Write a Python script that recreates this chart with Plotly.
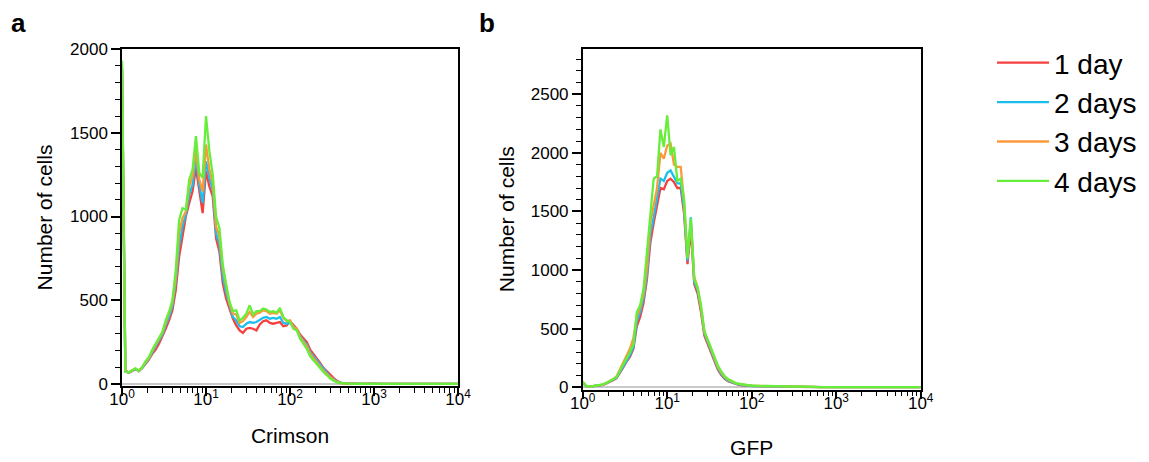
import numpy as np
import plotly.graph_objects as go

# ---------------- data ----------------
# bin positions (log10 of fluorescence), 0.04-decade bins from 10^0 to 10^4
log_bins = np.round(np.linspace(0, 4, 101), 2)
x_bins = 10 ** log_bins

series_names = ["1 day", "2 days", "3 days", "4 days"]
series_colors = ["#F5403F", "#1CBEEE", "#FB9A3A", "#66EE3A"]

x_tickvals = [1, 10, 100, 1000, 10000]
x_ticktext = ["10<sup>0</sup>", "10<sup>1</sup>", "10<sup>2</sup>", "10<sup>3</sup>", "10<sup>4</sup>"]
x_minor_tickvals = [2, 3, 4, 5, 6, 7, 8, 9,
                    20, 30, 40, 50, 60, 70, 80, 90,
                    200, 300, 400, 500, 600, 700, 800, 900,
                    2000, 3000, 4000, 5000, 6000, 7000, 8000, 9000]

# Panel a: Crimson
crimson_day1 = [1880, 80, 68, 80, 88, 78, 95, 120, 145, 180, 205,
                240, 280, 330, 380, 440, 560, 760, 880, 1000, 1080,
                1150, 1290, 1150, 1020, 1270, 1180, 1120, 870, 790, 600,
                510, 450, 390, 350, 320, 305, 330, 335, 330, 320,
                355, 375, 380, 365, 360, 365, 370, 345, 350, 375,
                350, 330, 295, 270, 250, 205, 180, 150, 125, 95,
                75, 50, 35, 18, 8, 4, 3, 2, 2, 1,
                1, 1, 2, 1, 1, 1, 1, 1, 1, 1,
                1, 1, 1, 1, 1, 1, 1, 1, 1, 1,
                1, 1, 1, 1, 1, 1, 1, 1, 1, 1]
crimson_day2 = [1890, 76, 66, 78, 90, 76, 96, 125, 150, 188, 222,
                255, 295, 350, 400, 465, 610, 820, 940, 1010, 1130,
                1190, 1350, 1190, 1080, 1330, 1230, 1160, 900, 830, 640,
                545, 470, 400, 380, 345, 340, 360, 370, 365, 370,
                385, 395, 400, 390, 395, 390, 400, 365, 360, 365,
                345, 325, 285, 260, 235, 190, 165, 135, 110, 85,
                65, 42, 28, 14, 6, 3, 2, 2, 1, 1,
                1, 1, 1, 2, 1, 1, 1, 1, 1, 1,
                1, 1, 1, 1, 1, 1, 1, 1, 1, 1,
                1, 1, 1, 1, 1, 1, 1, 1, 1, 1]
crimson_day3 = [1900, 78, 68, 82, 92, 78, 98, 130, 155, 198, 232,
                265, 305, 365, 420, 485, 640, 900, 990, 1030, 1180,
                1240, 1400, 1220, 1150, 1430, 1280, 1200, 940, 880, 690,
                580, 480, 420, 415, 365, 375, 400, 430, 400, 420,
                425, 440, 435, 420, 425, 420, 440, 395, 375, 380,
                340, 330, 280, 255, 225, 180, 155, 125, 100, 78,
                58, 38, 24, 12, 5, 3, 2, 2, 1, 1,
                1, 2, 1, 1, 1, 1, 1, 1, 1, 1,
                1, 1, 1, 1, 1, 1, 1, 1, 1, 1,
                1, 1, 1, 1, 1, 1, 1, 1, 1, 1]
crimson_day4 = [1930, 74, 70, 84, 94, 80, 100, 135, 160, 205, 240,
                275, 310, 380, 430, 500, 680, 980, 1050, 1040, 1220,
                1280, 1480, 1260, 1230, 1600, 1390, 1250, 1000, 930, 710,
                595, 490, 435, 440, 380, 395, 420, 470, 415, 435,
                435, 450, 445, 430, 435, 425, 455, 400, 380, 370,
                330, 320, 270, 240, 210, 165, 140, 115, 95, 70,
                52, 32, 20, 10, 5, 3, 2, 2, 1, 2,
                1, 1, 2, 1, 1, 1, 2, 1, 1, 1,
                1, 2, 1, 1, 1, 1, 1, 2, 1, 1,
                1, 1, 1, 1, 2, 1, 1, 1, 1, 1]

# Panel b: GFP
gfp_day1 = [40, 10, 5, 10, 12, 15, 20, 32, 45, 60, 78,
            120, 170, 220, 260, 330, 520, 600, 720, 920, 1230,
            1400, 1550, 1700, 1690, 1760, 1780, 1750, 1700, 1700, 1480,
            1050, 1350, 880, 800, 640, 440, 370, 300, 220, 150,
            105, 72, 52, 40, 30, 22, 17, 14, 12, 10,
            9, 10, 8, 9, 7, 7, 8, 6, 5, 5,
            5, 4, 4, 3, 3, 3, 2, 2, 2, 2,
            1, 2, 1, 1, 1, 1, 1, 1, 1, 1,
            1, 1, 1, 1, 1, 1, 1, 1, 1, 1,
            1, 1, 1, 1, 1, 1, 1, 1, 1, 1]
gfp_day2 = [44, 10, 5, 11, 13, 16, 22, 35, 48, 64, 82,
            128, 178, 232, 275, 345, 560, 640, 760, 960, 1300,
            1450, 1600, 1780, 1760, 1830, 1850, 1800, 1740, 1740, 1520,
            1080, 1450, 900, 830, 670, 460, 385, 310, 230, 160,
            112, 78, 56, 43, 33, 25, 19, 15, 13, 11,
            10, 11, 9, 10, 8, 8, 9, 7, 6, 6,
            6, 5, 4, 4, 3, 3, 3, 2, 2, 2,
            2, 1, 1, 2, 1, 1, 1, 1, 1, 1,
            1, 1, 1, 1, 1, 1, 1, 1, 1, 1,
            1, 1, 1, 1, 1, 1, 1, 1, 1, 1]
gfp_day3 = [46, 11, 6, 11, 13, 17, 23, 37, 52, 70, 92,
            150, 210, 270, 330, 420, 600, 680, 800, 1020, 1400,
            1550, 1700, 2000, 1950, 2060, 2080, 1900, 1880, 1880, 1580,
            1120, 1400, 940, 850, 680, 470, 400, 325, 245, 172,
            125, 88, 64, 48, 37, 28, 22, 18, 16, 14,
            12, 13, 10, 11, 10, 9, 11, 9, 8, 8,
            9, 7, 7, 6, 6, 5, 4, 3, 3, 2,
            2, 2, 1, 1, 2, 1, 1, 1, 1, 1,
            1, 1, 1, 1, 1, 1, 1, 1, 1, 1,
            1, 1, 1, 1, 1, 1, 1, 1, 1, 1]
gfp_day4 = [48, 11, 6, 12, 14, 18, 24, 38, 52, 68, 88,
            140, 190, 250, 300, 370, 640, 700, 840, 1150, 1500,
            1780, 1800, 2200, 2050, 2320, 1980, 2050, 1760, 1780, 1600,
            1100, 1440, 920, 850, 700, 480, 410, 340, 260, 185,
            135, 95, 70, 52, 40, 30, 24, 20, 18, 15,
            12, 14, 10, 12, 11, 9, 12, 10, 8, 9,
            10, 7, 8, 6, 7, 5, 4, 3, 3, 2,
            2, 3, 2, 2, 1, 2, 2, 1, 2, 1,
            1, 2, 1, 1, 2, 1, 1, 1, 2, 1,
            1, 1, 1, 2, 1, 1, 1, 1, 1, 1]

crimson_series = [crimson_day1, crimson_day2, crimson_day3, crimson_day4]
gfp_series = [gfp_day1, gfp_day2, gfp_day3, gfp_day4]

# ---------------- figure ----------------
FONT = "Liberation Sans, Arial, sans-serif"
# page body has an 8px margin: figure is drawn at (8, 8) inside the 1149x462 window
OFF = 8
W, H = 1149 - OFF, 462 - OFF


def fx(px):
    return (px - OFF) / W


def fy(py):
    return 1 - (py - OFF) / H


fig = go.Figure()
for name, color, ys in zip(series_names, series_colors, crimson_series):
    fig.add_trace(go.Scatter(x=x_bins, y=ys, mode="lines", name=name,
                             line=dict(color=color, width=2.3),
                             xaxis="x", yaxis="y", legendgroup=name))
for name, color, ys in zip(series_names, series_colors, gfp_series):
    fig.add_trace(go.Scatter(x=x_bins, y=ys, mode="lines", name=name,
                             line=dict(color=color, width=2.3),
                             xaxis="x2", yaxis="y2", legendgroup=name,
                             showlegend=False))


def xaxis_style(domain, title, standoff, anchor):
    return dict(
        domain=domain, type="log", range=[0, 4], anchor=anchor,
        tickmode="array", tickvals=x_tickvals, ticktext=x_ticktext,
        ticks="outside", ticklen=8, tickwidth=1.5, tickcolor="black",
        ticklabelstandoff=-11,
        minor=dict(tickmode="array", tickvals=x_minor_tickvals,
                   ticks="outside", ticklen=5, tickwidth=1, tickcolor="black"),
        showline=True, linecolor="black", linewidth=1.5, mirror=True,
        showgrid=False, zeroline=False,
        tickfont=dict(family=FONT, size=17, color="black"),
        title=dict(text=title, font=dict(family=FONT, size=21, color="black"),
                   standoff=standoff),
        automargin=False,
    )


def yaxis_style(domain, rng, anchor, standoff):
    return dict(
        domain=domain, range=rng, anchor=anchor,
        tickmode="linear", tick0=0, dtick=500,
        ticks="outside", ticklen=9, tickwidth=1.5, tickcolor="black",
        minor=dict(dtick=100, tick0=0, ticks="outside", ticklen=5,
                   tickwidth=1, tickcolor="black"),
        showline=True, linecolor="black", linewidth=1.5, mirror=True,
        showgrid=False, zeroline=True, zerolinecolor="#C8C8C8", zerolinewidth=1.5,
        tickfont=dict(family=FONT, size=17, color="black"),
        title=dict(text="Number of cells",
                   font=dict(family=FONT, size=21, color="black"),
                   standoff=standoff),
        automargin=False,
    )


fig.update_layout(
    width=W, height=H,
    margin=dict(l=0, r=0, t=0, b=0),
    paper_bgcolor="white", plot_bgcolor="white",
    font=dict(family=FONT, color="black"),
    xaxis=xaxis_style([fx(122), fx(458)], "Crimson", 20, "y"),
    yaxis=yaxis_style([fy(386), fy(49)], [-12, 2000], "x", 12),
    xaxis2=xaxis_style([fx(582.7), fx(920.7)], "GFP", 29, "y2"),
    yaxis2=yaxis_style([fy(389.5), fy(49)], [-19, 2886], "x2", 10),
    legend=dict(x=fx(992), y=fy(38), xanchor="left", yanchor="top",
                font=dict(family=FONT, size=28, color="black"),
                bgcolor="rgba(0,0,0,0)", itemwidth=52,
                tracegroupgap=0),
    showlegend=True,
    annotations=[
        dict(text="<b>a</b>", x=fx(9), y=fy(23.5), xref="paper", yref="paper",
             xanchor="left", yanchor="middle", showarrow=False,
             font=dict(family=FONT, size=26, color="black")),
        dict(text="<b>b</b>", x=fx(477), y=fy(23.5), xref="paper", yref="paper",
             xanchor="left", yanchor="middle", showarrow=False,
             font=dict(family=FONT, size=26, color="black")),
    ],
)

fig.write_html("out.html")
